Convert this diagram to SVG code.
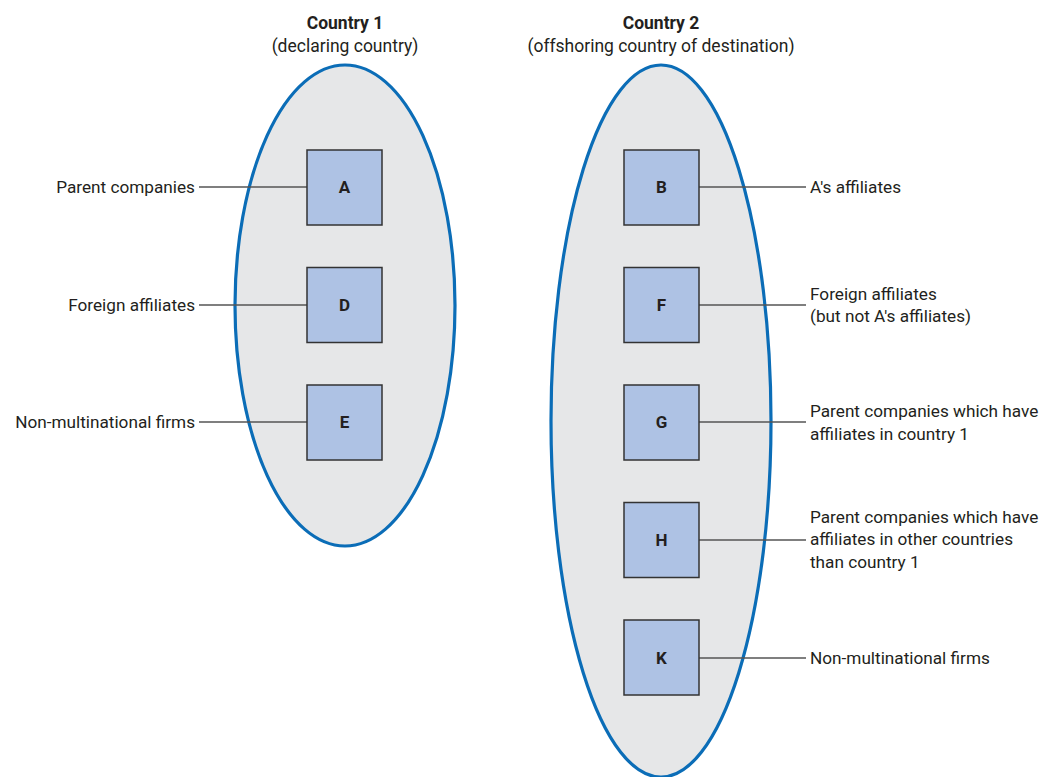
<svg xmlns="http://www.w3.org/2000/svg" width="1041" height="777" viewBox="0 0 1041 777">
<style>
.country{fill:#e6e7e8;stroke:#0b6db7;stroke-width:3.2}
.box rect{fill:#aec2e4;stroke:#333;stroke-width:1.5}
.box text{font-family:Roboto,"Liberation Sans",sans-serif;font-weight:bold;font-size:17px;fill:#231f20;text-anchor:middle}
.lbl{font-family:Roboto,"Liberation Sans",sans-serif;font-size:17.2px;fill:#231f20}
.ttl{font-family:Roboto,"Liberation Sans",sans-serif;font-size:17.5px;fill:#231f20;text-anchor:middle}
.conn line{stroke:#555;stroke-width:1.3}
</style>
<rect width="1041" height="777" fill="#fff"/>
<g id="country1">
<ellipse class="country" cx="345" cy="305.5" rx="110" ry="240.5"/>
<text class="ttl" x="345" y="29" font-weight="bold">Country 1</text>
<text class="ttl" x="345" y="52">(declaring country)</text>
</g>
<g id="country2">
<ellipse class="country" cx="661" cy="421" rx="110" ry="356"/>
<text class="ttl" x="661" y="29" font-weight="bold">Country 2</text>
<text class="ttl" x="661" y="52">(offshoring country of destination)</text>
</g>
<g id="connectors" class="conn">
<line x1="199" y1="187" x2="307" y2="187"/>
<line x1="199" y1="305" x2="307" y2="305"/>
<line x1="199" y1="422" x2="307" y2="422"/>
<line x1="699" y1="187" x2="806" y2="187"/>
<line x1="699" y1="305" x2="806" y2="305"/>
<line x1="699" y1="422" x2="806" y2="422"/>
<line x1="699" y1="540" x2="806" y2="540"/>
<line x1="699" y1="658" x2="806" y2="658"/>
</g>
<g id="nodeA" class="box"><rect x="307" y="150" width="75" height="75"/><text x="344.5" y="193">A</text></g>
<g id="nodeD" class="box"><rect x="307" y="267.5" width="75" height="75"/><text x="344.5" y="311">D</text></g>
<g id="nodeE" class="box"><rect x="307" y="385" width="75" height="75"/><text x="344.5" y="428">E</text></g>
<g id="nodeB" class="box"><rect x="624" y="150" width="75" height="75"/><text x="661.5" y="193">B</text></g>
<g id="nodeF" class="box"><rect x="624" y="267.5" width="75" height="75"/><text x="661.5" y="311">F</text></g>
<g id="nodeG" class="box"><rect x="624" y="385" width="75" height="75"/><text x="661.5" y="428">G</text></g>
<g id="nodeH" class="box"><rect x="624" y="502.5" width="75" height="75"/><text x="661.5" y="546">H</text></g>
<g id="nodeK" class="box"><rect x="624" y="620" width="75" height="75"/><text x="661.5" y="664">K</text></g>
<g id="labels">
<text class="lbl" x="195" y="193" text-anchor="end">Parent companies</text>
<text class="lbl" x="195" y="311" text-anchor="end">Foreign affiliates</text>
<text class="lbl" x="195" y="428" text-anchor="end">Non-multinational firms</text>
<text class="lbl" x="810" y="193">A's affiliates</text>
<text class="lbl" x="810" y="300">Foreign affiliates</text>
<text class="lbl" x="810" y="322">(but not A's affiliates)</text>
<text class="lbl" x="810" y="417">Parent companies which have</text>
<text class="lbl" x="810" y="440">affiliates in country 1</text>
<text class="lbl" x="810" y="523">Parent companies which have</text>
<text class="lbl" x="810" y="545">affiliates in other countries</text>
<text class="lbl" x="810" y="568">than country 1</text>
<text class="lbl" x="810" y="664">Non-multinational firms</text>
</g>
</svg>
